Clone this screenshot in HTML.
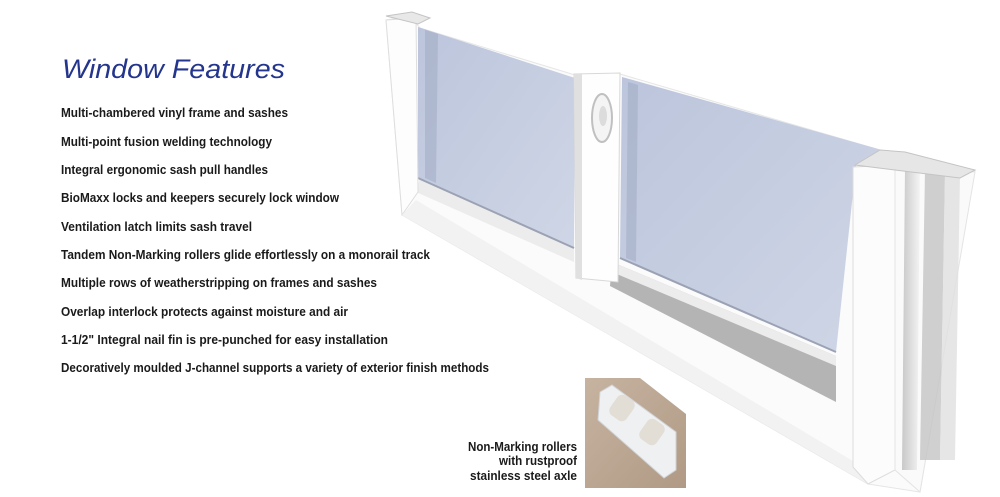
<!DOCTYPE html>
<html><head><meta charset="utf-8"><style>
html,body{margin:0;padding:0;background:#fff;}
svg{display:block;}
.t{font-family:"Liberation Sans",sans-serif;font-weight:bold;font-size:12.5px;fill:#1a1a1a;}
.c{font-family:"Liberation Sans",sans-serif;font-weight:bold;font-size:12.5px;fill:#1a1a1a;}
</style></head><body>
<svg width="1000" height="497" viewBox="0 0 1000 497" xmlns="http://www.w3.org/2000/svg">
<defs>
<linearGradient id="gl" x1="0" y1="0" x2="1" y2="1">
<stop offset="0" stop-color="#bcc5dc"/><stop offset="1" stop-color="#cfd6e6"/></linearGradient>
<linearGradient id="sh" x1="0" y1="0" x2="1" y2="0">
<stop offset="0" stop-color="#c8c8c8"/><stop offset="1" stop-color="#f4f4f4"/></linearGradient>
<linearGradient id="tan" x1="0" y1="0" x2="1" y2="1">
<stop offset="0" stop-color="#c6b3a0"/><stop offset="1" stop-color="#b09a85"/></linearGradient>
</defs>
<text x="62" y="78" font-family="Liberation Sans,sans-serif" font-style="italic" font-size="27" fill="#23358c" textLength="223" lengthAdjust="spacingAndGlyphs">Window Features</text>
<text class="t" x="61" y="117" textLength="227" lengthAdjust="spacingAndGlyphs">Multi-chambered vinyl frame and sashes</text>
<text class="t" x="61" y="146" textLength="211" lengthAdjust="spacingAndGlyphs">Multi-point fusion welding technology</text>
<text class="t" x="61" y="174" textLength="207" lengthAdjust="spacingAndGlyphs">Integral ergonomic sash pull handles</text>
<text class="t" x="61" y="202" textLength="278" lengthAdjust="spacingAndGlyphs">BioMaxx locks and keepers securely lock window</text>
<text class="t" x="61" y="231" textLength="191" lengthAdjust="spacingAndGlyphs">Ventilation latch limits sash travel</text>
<text class="t" x="61" y="259" textLength="369" lengthAdjust="spacingAndGlyphs">Tandem Non-Marking rollers glide effortlessly on a monorail track</text>
<text class="t" x="61" y="287" textLength="316" lengthAdjust="spacingAndGlyphs">Multiple rows of weatherstripping on frames and sashes</text>
<text class="t" x="61" y="316" textLength="287" lengthAdjust="spacingAndGlyphs">Overlap interlock protects against moisture and air</text>
<text class="t" x="61" y="344" textLength="327" lengthAdjust="spacingAndGlyphs">1-1/2" Integral nail fin is pre-punched for easy installation</text>
<text class="t" x="61" y="372" textLength="428" lengthAdjust="spacingAndGlyphs">Decoratively moulded J-channel supports a variety of exterior finish methods</text>

<polygon points="386,20 410,16 420,28 575,75 620,74 880,150 975,170 920,492 868,484 402,215" fill="#fbfbfb" stroke="#e6e6e6" stroke-width="1"/>
<polygon points="418,27 575,78 574,248 418,178" fill="url(#gl)"/>
<polygon points="420,178 574,248 574,262 416,192" fill="#ececec"/>
<polygon points="425,30 438,34 436,183 425,178" fill="#9aa5bd" opacity="0.45"/>
<line x1="418" y1="178" x2="574" y2="248" stroke="#9aa2b4" stroke-width="2"/>
<polygon points="386,20 416,18 418,192 402,215" fill="#fdfdfd" stroke="#dedede"/>
<polygon points="622,77 882,150 856,165 836,352 620,258" fill="url(#gl)"/>
<polygon points="628,82 638,85 636,262 626,258" fill="#9aa5bd" opacity="0.45"/>
<line x1="620" y1="258" x2="836" y2="352" stroke="#9aa2b4" stroke-width="2"/>
<polygon points="612,262 836,356 836,402 610,286" fill="#b4b4b4"/>
<polygon points="612,262 836,356 836,366 612,272" fill="#ececec"/>
<polygon points="402,215 868,484 868,470 416,200" fill="#f2f2f2"/>
<polygon points="574,74 620,73 618,282 576,278" fill="#fefefe" stroke="#d8d8d8"/>
<polygon points="574,74 582,74 582,280 576,278" fill="#e0e0e0"/>
<ellipse cx="602" cy="118" rx="10" ry="24" fill="#f4f4f4" stroke="#c0c0c0" stroke-width="2"/>
<ellipse cx="603" cy="116" rx="4" ry="10" fill="#dcdcdc"/>
<polygon points="853,167 895,165 895,470 868,484 853,467" fill="#fcfcfc" stroke="#dcdcdc"/>
<polygon points="895,165 975,172 920,492 895,470" fill="#fafafa" stroke="#e4e4e4"/>
<polygon points="905,168 920,168 917,470 902,470" fill="url(#sh)"/>
<polygon points="925,170 945,172 940,460 920,460" fill="#c4c4c4" opacity="0.8"/>
<polygon points="945,172 960,175 955,460 940,460" fill="#e0e0e0" opacity="0.8"/>
<polygon points="880,150 905,152 975,170 960,178 895,170 855,165" fill="#e6e6e6" stroke="#c4c4c4"/>
<polygon points="386,16 412,12 430,18 418,24" fill="#e8e8e8" stroke="#c4c4c4"/>

<polygon points="585,378 640,378 686,414 686,488 585,488" fill="url(#tan)"/>
<polygon points="600,392 612,385 676,432 676,470 664,478 598,420" fill="#eef0f2" stroke="#d0d2d6"/>
<rect x="612" y="396" width="20" height="24" rx="6" fill="#e2ddd5" transform="rotate(35 622 408)"/>
<rect x="642" y="420" width="20" height="24" rx="6" fill="#e2ddd5" transform="rotate(35 652 432)"/>

<text class="c" x="577" y="451" text-anchor="end" textLength="109" lengthAdjust="spacingAndGlyphs">Non-Marking rollers</text>
<text class="c" x="577" y="465" text-anchor="end" textLength="78" lengthAdjust="spacingAndGlyphs">with rustproof</text>
<text class="c" x="577" y="480" text-anchor="end" textLength="107" lengthAdjust="spacingAndGlyphs">stainless steel axle</text>
</svg>
</body></html>
